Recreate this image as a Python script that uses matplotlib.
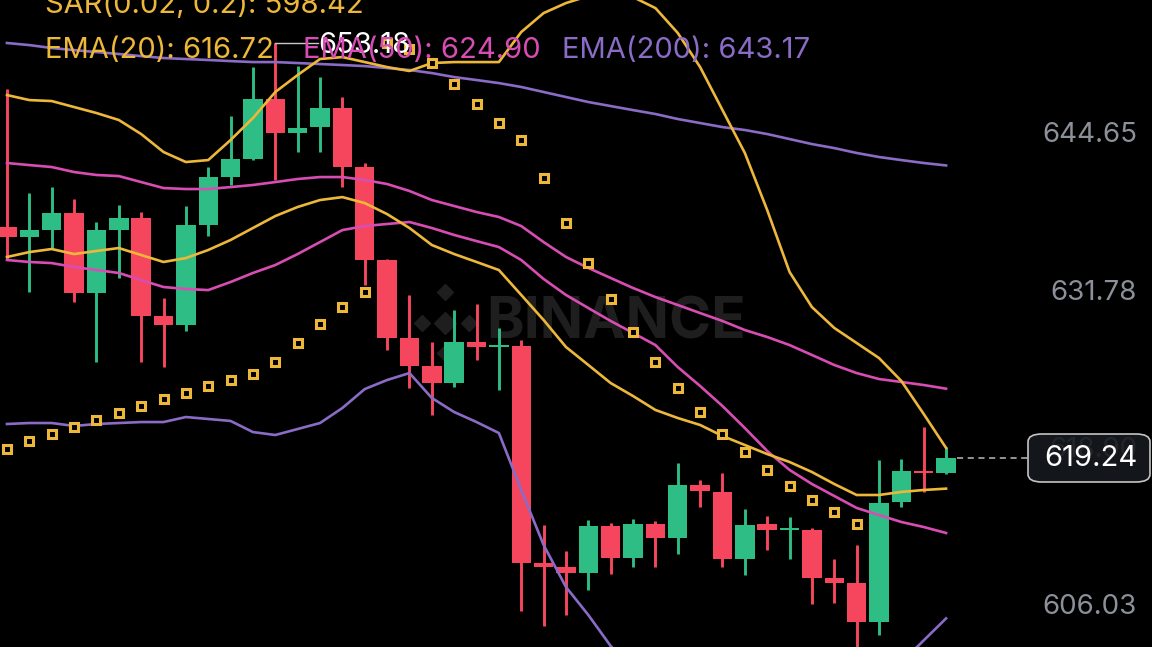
import matplotlib
matplotlib.use('Agg')
import matplotlib.pyplot as plt
from matplotlib.patches import FancyBboxPatch
import numpy as np

plt.rcParams['font.family'] = ['Inter', 'DejaVu Sans']

# OHLC (one per candle, left to right)
opens = [638.13, 637.31, 637.88, 639.28, 632.73, 637.88, 638.87, 630.85, 630.11, 638.29,
         642.22, 643.69, 648.60, 645.82, 646.31, 647.87, 643.04, 635.43, 629.05, 626.76,
         625.36, 628.72, 628.31, 628.40, 610.64, 610.31, 609.82, 613.66, 611.04, 613.83,
         612.68, 617.02, 616.45, 610.96, 613.83, 613.34, 613.34, 609.41, 609.00, 605.81,
         615.63, 618.16, 618.00]
highs = [649.42, 640.91, 641.40, 640.42, 638.54, 639.93, 639.36, 632.32, 639.85, 643.04,
         647.21, 651.22, 653.18, 651.30, 650.40, 648.77, 643.37, 635.55, 632.57, 628.72,
         631.34, 631.83, 629.87, 628.88, 613.74, 611.62, 614.15, 613.91, 614.24, 614.07,
         618.82, 617.43, 618.00, 615.05, 614.48, 614.40, 613.50, 610.96, 612.11, 619.06,
         619.15, 621.76, 620.13]
lows = [635.43, 632.81, 636.41, 631.99, 627.08, 633.96, 627.08, 626.67, 629.62, 637.39,
        641.57, 643.61, 641.98, 644.27, 644.27, 641.40, 633.38, 628.07, 624.96, 622.75,
        625.04, 627.25, 624.79, 606.71, 605.48, 606.38, 608.43, 609.73, 610.31, 610.31,
        611.37, 615.22, 610.31, 609.65, 611.70, 610.96, 607.28, 607.36, 597.00, 604.74,
        615.22, 616.45, 617.92]
closes = [637.31, 637.88, 639.28, 632.73, 637.88, 638.87, 630.85, 630.11, 638.29, 642.22,
          643.69, 648.60, 645.82, 646.23, 647.87, 643.04, 635.43, 629.05, 626.76, 625.36,
          628.72, 628.31, 628.47, 610.64, 610.31, 609.82, 613.66, 611.04, 613.83, 612.68,
          617.02, 616.53, 610.96, 613.74, 613.34, 613.50, 609.41, 609.00, 605.81, 615.54,
          618.16, 618.00, 619.24]

ema20 = [635.68, 636.08, 636.33, 635.92, 636.17, 636.41, 635.84, 635.27, 635.59, 636.25,
         637.07, 638.05, 639.03, 639.77, 640.34, 640.58, 640.09, 639.19, 638.05, 636.66,
         635.92, 635.27, 634.61, 632.57, 630.52, 628.31, 626.84, 625.36, 624.30, 623.16,
         622.50, 621.93, 621.03, 620.29, 619.55, 618.90, 618.08, 617.10, 616.20, 616.20,
         616.45, 616.61, 616.72]
ema50 = [643.37, 643.20, 643.04, 642.63, 642.39, 642.30, 641.81, 641.32, 641.24, 641.24,
         641.40, 641.57, 641.81, 642.06, 642.22, 642.22, 641.98, 641.65, 641.08, 640.34,
         639.85, 639.36, 638.95, 638.21, 636.90, 635.68, 634.78, 633.96, 633.14, 632.40,
         631.75, 631.09, 630.44, 629.70, 629.13, 628.47, 627.66, 626.84, 626.18, 625.69,
         625.45, 625.20, 624.90]
ema200 = [653.19, 653.02, 652.78, 652.61, 652.45, 652.29, 652.12, 651.96, 651.88, 651.80,
          651.71, 651.63, 651.63, 651.55, 651.47, 651.39, 651.30, 651.14, 650.98, 650.73,
          650.40, 650.16, 649.91, 649.59, 649.18, 648.77, 648.36, 648.03, 647.70, 647.38,
          646.97, 646.64, 646.31, 646.07, 645.74, 645.33, 644.92, 644.59, 644.19, 643.86,
          643.61, 643.37, 643.17]
boll_up = [648.93, 648.52, 648.44, 647.95, 647.46, 646.89, 645.74, 644.27, 643.45, 643.61,
           645.25, 647.05, 649.18, 650.57, 651.88, 652.04, 651.63, 651.22, 650.90, 651.55,
           651.63, 651.63, 651.63, 654.09, 655.64, 656.46, 657.03, 657.28, 656.95, 656.05,
           654.01, 651.22, 647.70, 644.19, 639.52, 634.45, 631.58, 629.87, 628.64, 627.41,
           625.53, 622.83, 620.05]
boll_mb = [635.43, 635.27, 635.18, 634.86, 634.61, 634.37, 633.79, 633.22, 633.06, 632.97,
           633.63, 634.37, 635.02, 635.92, 636.90, 637.88, 638.21, 638.38, 638.54, 638.05,
           637.48, 636.98, 636.49, 635.43, 633.88, 632.57, 631.50, 630.44, 629.46, 628.47,
           626.67, 625.12, 623.48, 621.68, 619.80, 618.25, 617.10, 616.12, 615.14, 614.56,
           613.99, 613.58, 613.09]
boll_dn = [622.01, 622.09, 622.09, 621.85, 622.01, 622.09, 622.17, 622.17, 622.58, 622.42,
           622.26, 621.35, 621.11, 621.60, 622.09, 623.32, 624.87, 625.61, 626.18, 624.14,
           622.99, 622.17, 621.27, 616.61, 612.11, 608.67, 606.38, 603.84, 602.0, 600.9,
           599.3, 599.0, 599.3, 599.2, 600.1, 602.0, 602.6, 602.4, 601.6, 601.7,
           602.5, 604.3, 606.1]
sar = [619.96, 620.62, 621.19, 621.76, 622.34, 622.91, 623.48, 624.06, 624.55, 625.12,
       625.61, 626.10, 627.08, 628.64, 630.19, 631.58, 632.81, 653.18, 652.70, 651.55,
       649.83, 648.20, 646.64, 645.25, 642.14, 638.46, 635.18, 632.24, 629.54, 627.08,
       624.96, 622.99, 621.19, 619.72, 618.25, 616.94, 615.79, 614.81, 613.83, 597.00,
       597.45, 597.92, 598.42]

price_ticks = [644.65, 631.78, 618.90, 606.03]
last_price = 619.24
max_price = 653.18
max_idx = 12

GREEN = '#2EBD85'
RED = '#F6465D'
YELLOW = '#EDB83A'
PINK = '#D84DB3'
PURPLE = '#8A6BC6'
GREY = '#8C9199'

fig = plt.figure(figsize=(11.52, 6.47), dpi=100, facecolor='black')
ax = fig.add_axes([0, 0, 1, 1])
ax.set_facecolor('black')
ax.axis('off')
ax.set_xlim(-0.313, 51.21)
ax.set_ylim(603.76, 656.71)

x = np.arange(len(opens))
o = np.array(opens)
c = np.array(closes)
colors = [GREEN if cc >= oo else RED for oo, cc in zip(o, c)]

# watermark
ax.text(0.535, 0.5, 'BINANCE', transform=ax.transAxes, ha='center', va='center',
        fontsize=41, fontweight='bold', color='#1e1e1e', zorder=0)
lx, ly = 19.6, 630.3
ax.plot([lx], [ly], marker='D', ms=11, color='#1e1e1e', zorder=0)
for dx, dy in [(-1.05, 0), (1.05, 0), (0, 2.5), (0, -2.5)]:
    ax.plot([lx + dx], [ly + dy], marker='D', ms=8, color='#1e1e1e', zorder=0)

# candles
ax.vlines(x, lows, highs, colors=colors, linewidth=2.1, zorder=2)
body_h = np.maximum(np.abs(c - o), 0.12)
ax.bar(x, body_h, bottom=np.minimum(o, c), width=0.87, color=colors, zorder=3)

# indicator lines
for series, col in [(ema200, PURPLE), (boll_dn, PURPLE), (boll_mb, PINK), (ema50, PINK),
                    (boll_up, YELLOW), (ema20, YELLOW)]:
    ax.plot(x, series, color=col, linewidth=1.9, zorder=4, solid_joinstyle='round')

ax.plot(x, sar, linestyle='none', marker='s', ms=5.5, mfc='black', mec=YELLOW, mew=2.2, zorder=5)

# price axis labels
for t in price_ticks:
    ax.annotate(f'{t:.2f}', xy=(0.987, t), xycoords=('axes fraction', 'data'),
                xytext=(0, 5), textcoords='offset pixels', ha='right', va='baseline',
                fontsize=20, color=GREY, zorder=6)

# last price line + label
ax.plot([42.5, 45.73], [last_price, last_price], color='#bbbbbb', lw=1.1,
        linestyle=(0, (4, 3)), zorder=5)
box = FancyBboxPatch((1028 / 1152, (647 - 482) / 647), 122 / 1152, 48 / 647,
                     boxstyle='round,pad=0,rounding_size=0.012', transform=fig.transFigure,
                     facecolor='#16191e', alpha=0.9, edgecolor='#d8d8d8', lw=1.2, zorder=7)
fig.patches.append(box)
fig.text(1137 / 1152, (647 - 459) / 647, f'{last_price:.2f}', ha='right', va='center',
         fontsize=21, color='white', zorder=8)

# max price marker
ax.plot([max_idx, 13.93], [max_price, max_price], color='#c8c8c8', lw=1, zorder=6)
ax.annotate(f'{max_price:.2f}', xy=(13.93, max_price), xytext=(0, -2), textcoords='offset pixels',
            ha='left', va='center', fontsize=21, color='white', zorder=6)

# header legend
ax.text(45 / 1152, 1 - 13 / 647, f'SAR(0.02, 0.2): {sar[-1]:.2f}', transform=ax.transAxes,
        ha='left', va='baseline', fontsize=21, color=YELLOW, zorder=6)
hy = 1 - 58 / 647
ax.text(45 / 1152, hy, f'EMA(20): {ema20[-1]:.2f}', transform=ax.transAxes,
        ha='left', va='baseline', fontsize=21, color=YELLOW, zorder=6)
ax.text(303 / 1152, hy, f'EMA(50): {ema50[-1]:.2f}', transform=ax.transAxes,
        ha='left', va='baseline', fontsize=21, color=PINK, zorder=6)
ax.text(562 / 1152, hy, f'EMA(200): {ema200[-1]:.2f}', transform=ax.transAxes,
        ha='left', va='baseline', fontsize=21, color=PURPLE, zorder=6)

fig.savefig('out.png', dpi=100, facecolor='black')
plt.close(fig)
